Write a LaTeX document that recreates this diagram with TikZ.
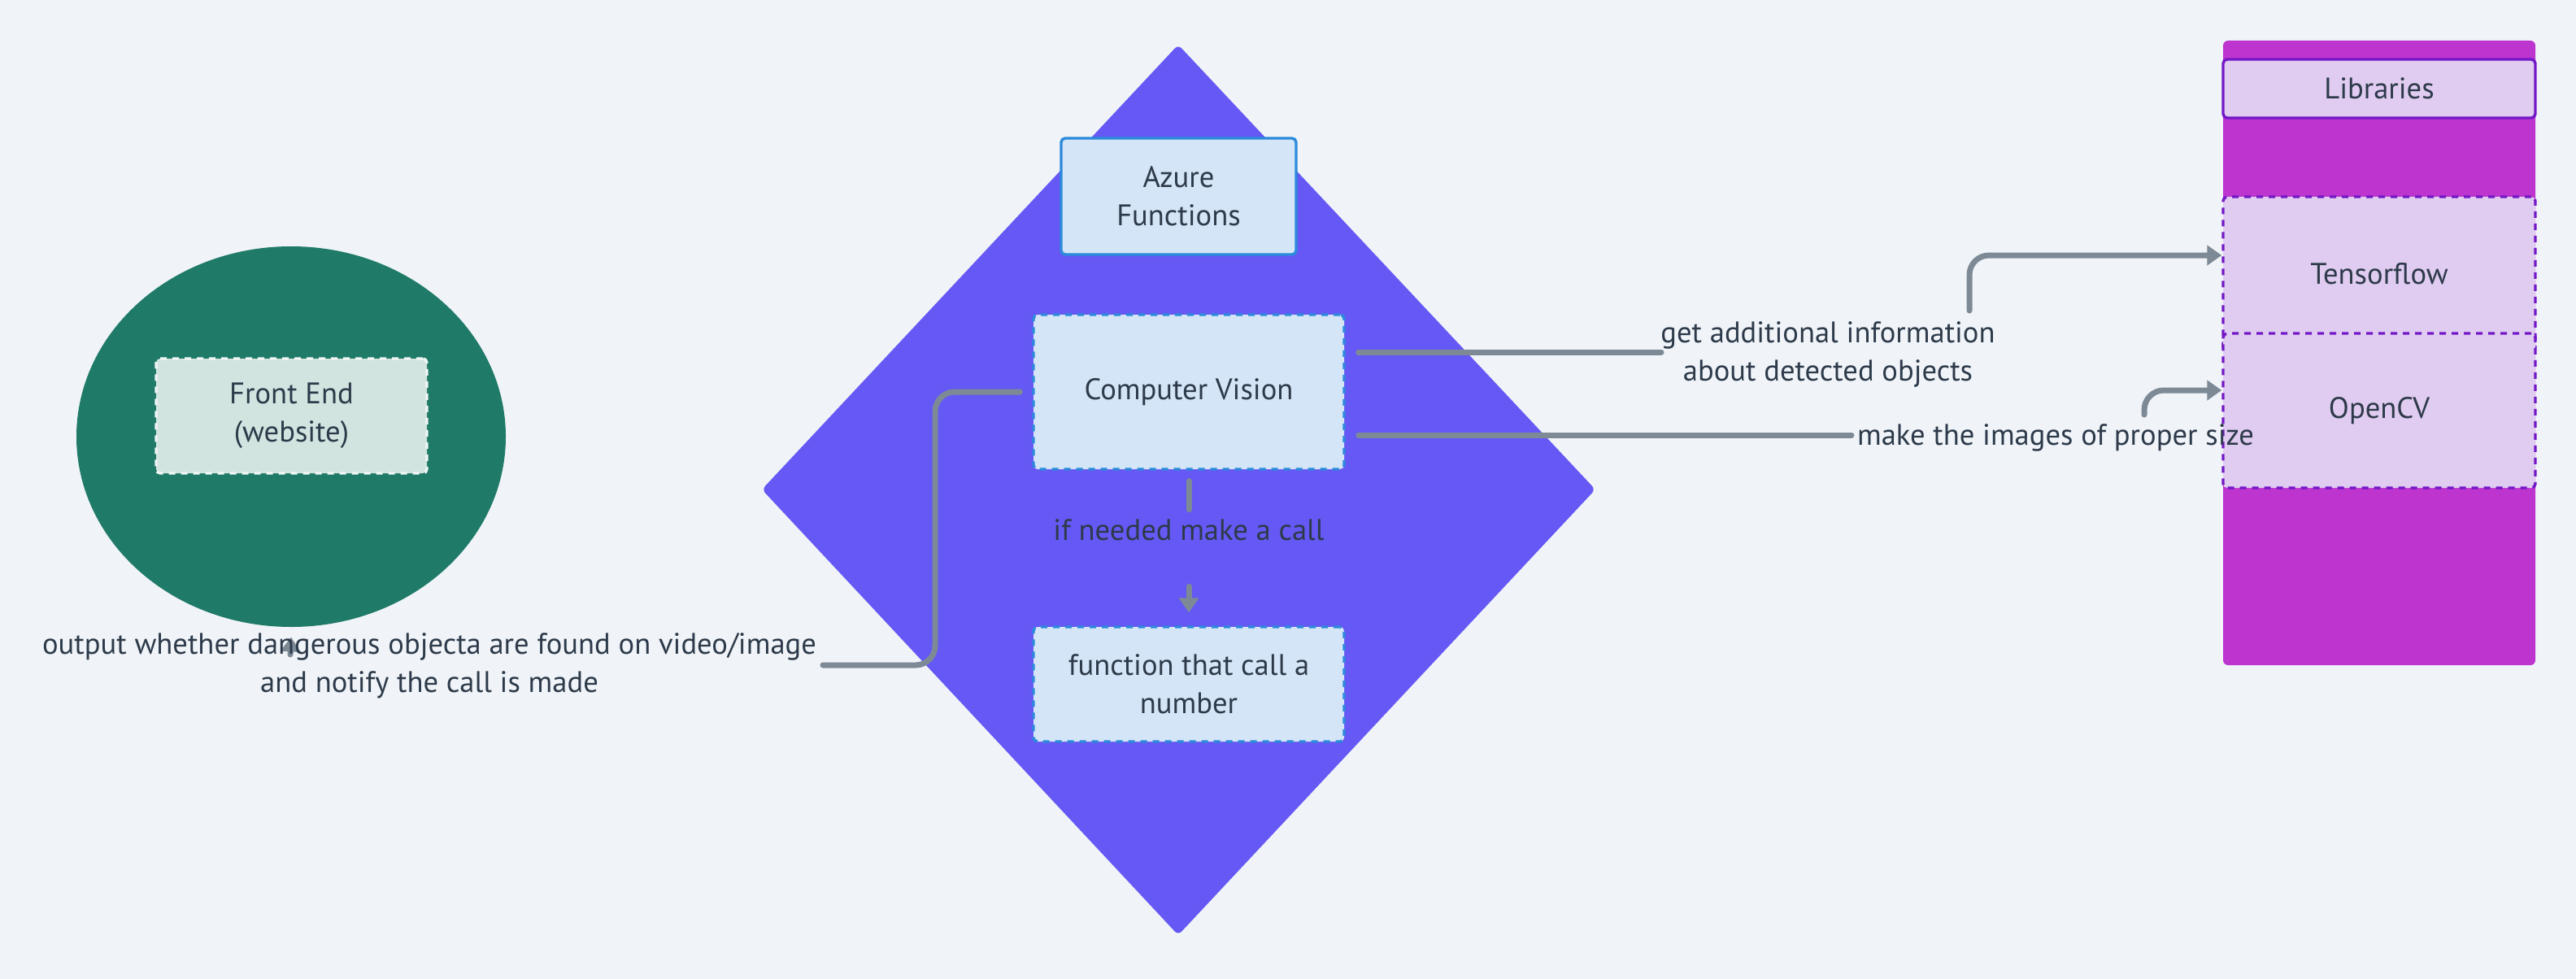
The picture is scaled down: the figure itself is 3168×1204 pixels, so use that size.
\documentclass[tikz,border=0pt]{standalone}
\usepackage{fontspec}
\setmainfont{PT Sans}
\usetikzlibrary{arrows.meta,shapes.geometric}
\definecolor{bgc}{HTML}{F0F4F8}
\definecolor{ink}{HTML}{2D3A4A}
\definecolor{lineg}{HTML}{7D8A96}
\definecolor{greenc}{HTML}{207A68}
\definecolor{feFill}{HTML}{D2E4E0}
\definecolor{diaC}{HTML}{6658F4}
\definecolor{azFill}{HTML}{D3E5F6}
\definecolor{azBorder}{HTML}{2B8ADB}
\definecolor{magC}{HTML}{BE34CE}
\definecolor{lavC}{HTML}{E0CCF0}
\definecolor{purpB}{HTML}{7318C6}
\begin{document}
\begin{tikzpicture}[x=0.5pt,y=-0.5pt,
  txt/.style={text=ink, font=\fontsize{18.3}{23.5}\selectfont, align=center, inner sep=0pt},
  box/.style={txt, draw, rounded corners=2.5pt, line width=1.7pt},
  dashbox/.style={box, dash pattern=on 4pt off 3.5pt},
  conn/.style={draw=lineg, line width=3.5pt, line cap=round, rounded corners=12pt},
  tip/.style={-{Triangle[width=12pt,length=9pt]}}]
\useasboundingbox (0,0) rectangle (3168,1204);
\fill[bgc] (0,0) rectangle (3168,1204);

% Front end
\node[ellipse, fill=greenc, minimum width=264pt, minimum height=234pt, inner sep=0pt] (feo) at (358,537) {};
\node[dashbox, draw=white!65!feFill, fill=feFill, minimum width=166.5pt, minimum height=70.5pt] (fe) at (358.5,511.5) {Front End\\(website)};

% Azure diamond
\fill[diaC, rounded corners=3pt] (1449,55) -- (1962,602) -- (1449,1150) -- (937,602) -- cycle;
\node[box, draw=azBorder, fill=azFill, minimum width=144.5pt, minimum height=71.5pt] (az) at (1449.5,241.5) {Azure\\Functions};
\node[dashbox, draw=azBorder, fill=azFill, minimum width=191pt, minimum height=95pt] (cv) at (1462,482) {Computer Vision};
\node[dashbox, draw=azBorder, fill=azFill, minimum width=191pt, minimum height=70.5pt] (fn) at (1462,841.5) {function that call a\\number};

% Libraries
\node[fill=magC, rounded corners=3pt, minimum width=192pt, minimum height=384pt, inner sep=0pt] (libc) at (2926,434) {};
\node[box, draw=purpB, fill=lavC, minimum width=192pt, minimum height=36pt] (lib) at (2926,109) {Libraries};
\node[dashbox, draw=purpB, fill=lavC, minimum width=192pt, minimum height=95pt] (tf) at (2926,337) {Tensorflow};
\node[dashbox, draw=purpB, fill=lavC, minimum width=192pt, minimum height=95pt] (ocv) at (2926,505) {OpenCV};

% connectors
\draw[conn] ([xshift=-7.5pt]cv.west) -- (1150,482) -- (1150,818) -- (1012,818);
\draw[conn, tip] (357,805) -- ([yshift=-6pt]feo.south);

\draw[conn] ([yshift=-6.5pt]cv.south) -- ([yshift=-24pt]cv.south);
\draw[conn, tip] ([yshift=24pt]fn.north) -- ([yshift=8pt]fn.north);

\draw[conn] ([xshift=8pt,yshift=24.5pt]cv.east) -- (2043,433);
\draw[conn, tip] (2422,382) |- ([yshift=11.5pt]tf.west);

\draw[conn] ([xshift=8pt,yshift=-26.5pt]cv.east) -- (2277,535);
\draw[conn, tip] (2637,510) |- ([yshift=12.5pt]ocv.west);

% labels
\node[txt] (lmid) at (1462,652) {if needed make a call};
\node[txt] (lout) at (528,819) {output whether dangerous objecta are found on video/image\\and notify the call is made};
\node[txt] (lget) at (2248,436) {get additional information\\about detected objects};
\node[txt] (lmake) at (2528,538) {make the images of proper size};
\end{tikzpicture}
\end{document}
